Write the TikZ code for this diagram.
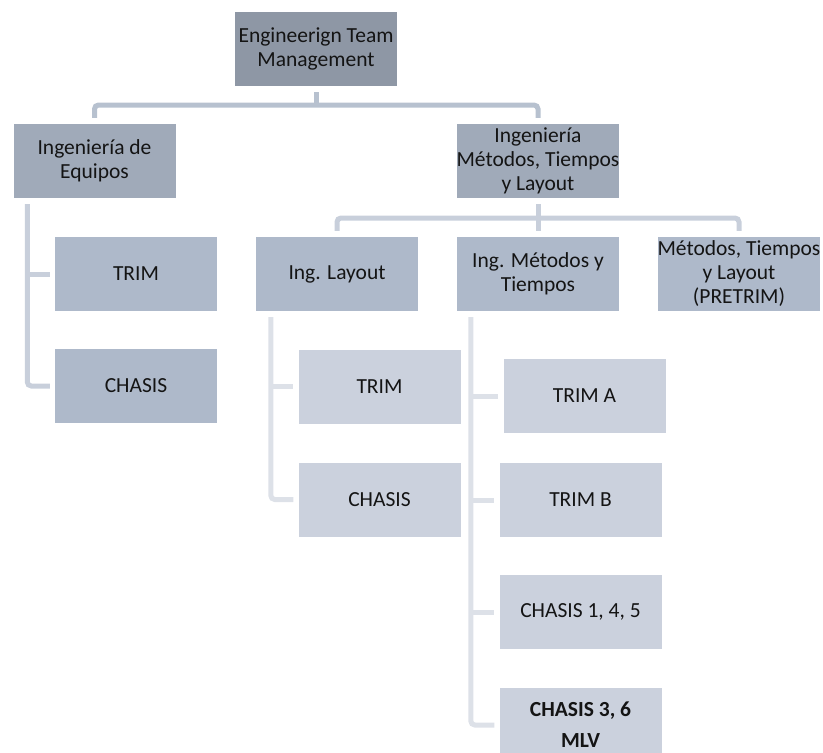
\documentclass[tikz,border=0pt]{standalone}
\usepackage{fontspec}
\setmainfont{Carlito}
\definecolor{boxA}{HTML}{8E97A5}
\definecolor{boxB}{HTML}{A0AAB9}
\definecolor{boxC}{HTML}{AEB9CA}
\definecolor{boxD}{HTML}{CBD1DD}
\definecolor{lineA}{HTML}{B7C1CF}
\definecolor{lineB}{HTML}{C8CFDB}
\definecolor{lineC}{HTML}{DDE1E8}
\definecolor{ink}{HTML}{141414}
\tikzset{
  orgbox/.style={minimum width=162pt, minimum height=74pt, inner sep=0pt,
    align=center, text=ink, font=\fontsize{21.5}{24}\selectfont},
  lvA/.style={orgbox, fill=boxA},
  lvB/.style={orgbox, fill=boxB},
  lvC/.style={orgbox, fill=boxC},
  lvD/.style={orgbox, fill=boxD},
  conn/.style={line width=5pt, rounded corners=4pt},
}
\begin{document}
\begin{tikzpicture}[x=1pt, y=-1pt]
\useasboundingbox (0,0) rectangle (823,753);
\clip (0,0) rectangle (823,753);

% boxes
\node[lvA] (top) at (316,49) {Engineerign Team\\Management};
\node[lvB] (equip) at (94.5,161) {Ingeniería de\\Equipos};
\node[lvB] (metod) at (538,161) {Ingeniería\\Métodos, Tiempos\\y Layout};

\node[lvC] (eqtrim) at (136,274) {TRIM};
\node[lvC] (eqchasis) at (136,386) {CHASIS};

\node[lvC] (layout) at (337,274) {Ing. Layout};
\node[lvC] (myt) at (538,274) {Ing. Métodos y\\Tiempos};
\node[lvC] (pretrim) at (739,274) {Métodos, Tiempos\\y Layout\\(PRETRIM)};

\node[lvD] (lytrim) at (379.5,386.5) {TRIM};
\node[lvD] (lychasis) at (379.5,499.5) {CHASIS};

\node[lvD] (trima) at (584.5,396) {TRIM A};
\node[lvD] (trimb) at (580.5,500) {TRIM B};
\node[lvD] (ch145) at (580.5,612) {CHASIS 1, 4, 5};
\node[lvD, font=\fontsize{21.5}{31}\selectfont\bfseries] (ch36) at (580.5,725) {CHASIS 3, 6\\MLV};

% first level bus
\coordinate (bus1) at (316,105);
\draw[conn, lineA] ([yshift=-6pt]top.south) -- (top.south |- bus1);
\draw[conn, lineA] ([yshift=6pt]equip.north) |- (bus1) -| ([yshift=6pt]metod.north);

% second level bus
\coordinate (bus2) at (538,218);
\draw[conn, lineB] ([yshift=-6pt]metod.south) -- ([yshift=6pt]myt.north);
\draw[conn, lineB] ([yshift=6pt]layout.north) |- (bus2) -| ([yshift=6pt]pretrim.north);

% Equipos rail
\coordinate (eqr) at ([xshift=14pt,yshift=-6pt]equip.south west);
\draw[conn, lineB] (eqr) |- ([xshift=-5pt]eqchasis.west);
\draw[conn, lineB] (eqr |- eqtrim.west) -- ([xshift=-5pt]eqtrim.west);

% Layout rail
\coordinate (lyr) at ([xshift=15pt,yshift=-6pt]layout.south west);
\draw[conn, lineC] (lyr) |- ([xshift=-5pt]lychasis.west);
\draw[conn, lineC] (lyr |- lytrim.west) -- ([xshift=-5pt]lytrim.west);

% Metodos y Tiempos rail
\coordinate (mtr) at ([xshift=14pt,yshift=-6pt]myt.south west);
\draw[conn, lineC] (mtr) |- ([xshift=-5pt]ch36.west);
\draw[conn, lineC] (mtr |- trima.west) -- ([xshift=-5pt]trima.west);
\draw[conn, lineC] (mtr |- trimb.west) -- ([xshift=-5pt]trimb.west);
\draw[conn, lineC] (mtr |- ch145.west) -- ([xshift=-5pt]ch145.west);
\end{tikzpicture}
\end{document}
